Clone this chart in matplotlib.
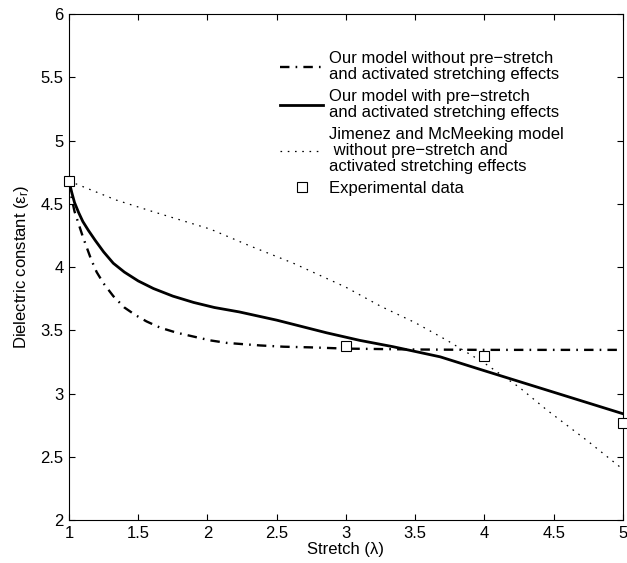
import numpy as np
import matplotlib.pyplot as plt
from matplotlib.ticker import FormatStrFormatter

plt.rcParams['font.family'] = ['Liberation Sans', 'DejaVu Sans']
plt.rcParams['mathtext.fontset'] = 'custom'
plt.rcParams['mathtext.rm'] = 'Liberation Sans'
plt.rcParams['mathtext.it'] = 'Liberation Sans'

# Our model without pre-stretch (dash-dot)
x_nopre = [1.0, 1.02, 1.04, 1.07, 1.10, 1.13, 1.16, 1.20, 1.25, 1.32, 1.40,
           1.48, 1.56, 1.66, 1.78, 1.9, 2.02, 2.14, 2.26, 2.38, 2.55, 2.74,
           3.0, 3.5, 4.0, 5.0]
y_nopre = [4.68, 4.54, 4.44, 4.34, 4.24, 4.15, 4.06, 3.96, 3.87, 3.77, 3.68,
           3.62, 3.57, 3.52, 3.48, 3.45, 3.42, 3.40, 3.39, 3.38, 3.37, 3.365,
           3.355, 3.348, 3.345, 3.345]

# Our model with pre-stretch (solid)
x_pre = [1.0, 1.02, 1.04, 1.07, 1.10, 1.14, 1.19, 1.25, 1.32, 1.40, 1.50,
         1.61, 1.75, 1.9, 2.05, 2.23, 2.5, 2.86, 3.1, 3.34, 3.68, 4.0, 4.5, 5.0]
y_pre = [4.68, 4.59, 4.51, 4.43, 4.36, 4.29, 4.21, 4.12, 4.03, 3.96, 3.89,
         3.83, 3.77, 3.72, 3.68, 3.645, 3.58, 3.48, 3.42, 3.37, 3.29, 3.18,
         3.01, 2.84]

# Jimenez and McMeeking model (dotted)
x_jm = [1.0, 1.34, 1.6, 2.02, 2.3, 2.62, 3.0, 3.25, 3.5, 3.73, 4.0, 4.25,
        4.45, 4.75, 5.0]
y_jm = [4.68, 4.53, 4.44, 4.30, 4.17, 4.03, 3.84, 3.69, 3.56, 3.42, 3.24,
        3.05, 2.87, 2.62, 2.40]

# Experimental data
x_exp = [1, 3, 4, 5]
y_exp = [4.68, 3.375, 3.30, 2.77]

labels = ['Our model without pre\u2212stretch\nand activated stretching effects',
          'Our model with pre\u2212stretch\nand activated stretching effects',
          'Jimenez and McMeeking model\n without pre\u2212stretch and\nactivated stretching effects',
          'Experimental data']

fs = 12

fig = plt.figure(figsize=(6.27, 5.63), dpi=100)
ax = fig.add_axes([0.110, 0.0764, 0.8836, 0.8986])

ax.plot(x_nopre, y_nopre, color='black', lw=1.7,
        linestyle=(0, (4, 2.6, 0.7, 2.6)), label=labels[0])
ax.plot(x_pre, y_pre, color='black', lw=2.0, linestyle='-', label=labels[1])
ax.plot(x_jm, y_jm, color='black', lw=0.9, linestyle=(0, (1.3, 4.5)),
        label=labels[2])
ax.plot(x_exp, y_exp, linestyle='none', marker='s', markersize=6.5,
        markerfacecolor='white', markeredgecolor='black', markeredgewidth=0.8,
        label=labels[3], clip_on=False, zorder=5)

ax.set_xlim(1, 5)
ax.set_ylim(2, 6)
ax.set_xticks(np.arange(1, 5.01, 0.5))
ax.set_yticks(np.arange(2, 6.01, 0.5))
ax.xaxis.set_major_formatter(FormatStrFormatter('%g'))
ax.yaxis.set_major_formatter(FormatStrFormatter('%g'))
ax.tick_params(direction='in', top=True, right=True, length=4, width=0.8,
               labelsize=fs, pad=4)
for s in ax.spines.values():
    s.set_linewidth(0.8)

ax.set_xlabel('Stretch (\u03bb)', fontsize=fs, labelpad=1)
ax.set_ylabel('Dielectric constant (\u03b5$_r$)', fontsize=fs, labelpad=7)

leg = ax.legend(loc='upper left', bbox_to_anchor=(0.381, 0.927), frameon=False,
                fontsize=fs, borderpad=0, borderaxespad=0, handlelength=2.6,
                handletextpad=0.35, labelspacing=0.4, numpoints=1)
for t in leg.get_texts():
    t.set_linespacing(1.1)

fig.savefig('out.png', dpi=100)
